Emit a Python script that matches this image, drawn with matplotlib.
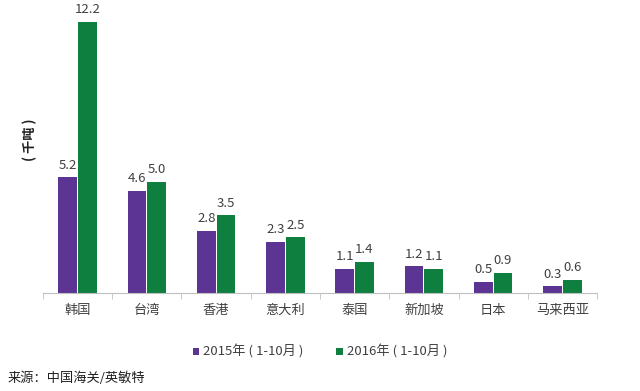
import numpy as np
import matplotlib
matplotlib.use("Agg")
import matplotlib.pyplot as plt

plt.rcParams['font.family'] = ['Noto Sans CJK SC', 'DejaVu Sans']

countries = ['韩国', '台湾', '香港', '意大利', '泰国', '新加坡', '日本', '马来西亚']
v2015 = [5.2, 4.6, 2.8, 2.3, 1.1, 1.2, 0.5, 0.3]
v2016 = [12.2, 5.0, 3.5, 2.5, 1.4, 1.1, 0.9, 0.6]
labels = ['2015年 ( 1-10月 )', '2016年 ( 1-10月 )']

purple = '#5b3494'
green = '#0f7f3f'

fig = plt.figure(figsize=(6.4, 3.91), dpi=100)
ax = fig.add_axes([0.067, 0.2506, 0.866, 0.728])

x = np.arange(len(countries))
w = 0.27
b1 = ax.bar(x - w/2 - 0.007, v2015, w, color=purple, label=labels[0])
b2 = ax.bar(x + w/2 + 0.007, v2016, w, color=green, label=labels[1])

for rect, v in zip(b1, v2015):
    ax.text(rect.get_x() + rect.get_width()/2, v + 0.25, f'{v:.1f}',
            ha='center', va='bottom', fontsize=9.5, color='#404040')
for rect, v in zip(b2, v2016):
    ax.text(rect.get_x() + rect.get_width()/2, v + 0.25, f'{v:.1f}',
            ha='center', va='bottom', fontsize=9.5, color='#404040')

ax.set_xlim(-0.5, len(countries) - 0.5)
ax.set_ylim(0, 12.8)
ax.set_yticks([])
for s in ['top', 'right', 'left']:
    ax.spines[s].set_visible(False)
ax.spines['bottom'].set_color('#bfbfbf')

ax.set_xticks(x)
ax.set_xticklabels(countries, fontsize=9.5, color='#404040')
ax.tick_params(axis='x', length=0, pad=8)
ax.set_xticks(np.arange(-0.5, len(countries)), minor=True)
ax.tick_params(axis='x', which='minor', length=4, color='#bfbfbf')

fig.text(30/640, 1 - 140/391, '( 千吨 )', rotation=90, ha='center', va='center',
         fontsize=9.5, fontweight='bold', color='#202020')

fig.legend(handles=[b1, b2], labels=labels, loc='center', bbox_to_anchor=(0.5, 1 - 352/391),
           ncol=2, frameon=False, fontsize=9.5, handlelength=0.5, handleheight=0.5,
           handletextpad=0.3, columnspacing=2.5, labelcolor='#404040')

fig.text(8/640, 1 - 378/391, '来源：中国海关/英敏特', ha='left', va='center',
         fontsize=9.5, color='#202020')

fig.savefig('out.png', dpi=100)
